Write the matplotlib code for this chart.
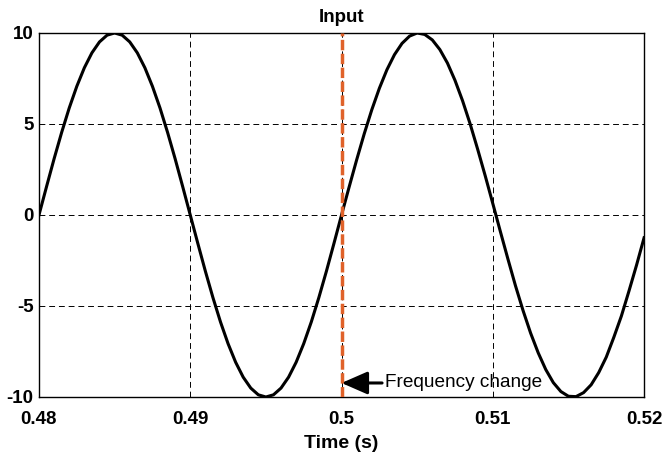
import numpy as np
import matplotlib
matplotlib.use('Agg')
import matplotlib.pyplot as plt

# time axis, 0.5 ms steps
time_s = np.arange(81) * 0.0005 + 0.48

# signal: 50 Hz before 0.5 s, slightly slower after
input_before = [0, 1.56, 3.09, 4.54, 5.88, 7.07, 8.09, 8.91, 9.51, 9.88,
                10, 9.88, 9.51, 8.91, 8.09, 7.07, 5.88, 4.54, 3.09, 1.56,
                0, -1.56, -3.09, -4.54, -5.88, -7.07, -8.09, -8.91, -9.51, -9.88,
                -10, -9.88, -9.51, -8.91, -8.09, -7.07, -5.88, -4.54, -3.09, -1.56,
                0]
input_after = [1.53, 3.03, 4.46, 5.78, 6.96, 7.98, 8.81, 9.43, 9.83, 10.0,
               9.92, 9.62, 9.09, 8.35, 7.40, 6.28, 5.01, 3.61, 2.15, 0.63,
               -0.91, -2.42, -3.89, -5.25, -6.49, -7.57, -8.49, -9.21, -9.70, -9.96,
               -9.98, -9.76, -9.33, -8.66, -7.81, -6.72, -5.55, -4.18, -2.76, -1.25]
input_signal = input_before + input_after

change_time = 0.5
x_ticks = [0.48, 0.49, 0.5, 0.51, 0.52]
x_tick_labels = ['0.48', '0.49', '0.5', '0.51', '0.52']
y_ticks = [-10, -5, 0, 5, 10]

plt.rcParams['font.family'] = ['Liberation Sans', 'DejaVu Sans']
plt.rcParams['axes.unicode_minus'] = False

fig = plt.figure(figsize=(6.64, 4.57), dpi=100)
ax = fig.add_axes([0.0587, 0.1313, 0.9113, 0.7965])

ax.plot(time_s, input_signal, color='black', linewidth=2.2, zorder=3)
ax.axvline(change_time, color='#E0622A', linestyle=(0, (3, 1)), linewidth=2.5, zorder=4)

# arrow pointing at the frequency change
ax.annotate('', xy=(change_time, -9.23), xytext=(0.50268, -9.23),
            arrowprops=dict(arrowstyle='-|>,head_length=1.6,head_width=0.7',
                            color='black', linewidth=2.2, shrinkA=0, shrinkB=0,
                            mutation_scale=10),
            zorder=5)
ax.text(0.50288, -9.23, 'Frequency change', fontsize=13.7, va='center', ha='left', zorder=5)

ax.set_xlim(0.48, 0.52)
ax.set_ylim(-10, 10)
ax.set_xticks(x_ticks)
ax.set_xticklabels(x_tick_labels)
ax.set_yticks(y_ticks)
ax.tick_params(axis='x', length=0, labelsize=13.5, pad=10)
ax.tick_params(axis='y', length=0, labelsize=13.5, pad=4)
for lbl in ax.get_xticklabels() + ax.get_yticklabels():
    lbl.set_fontweight('bold')

ax.grid(True, color='black', linestyle=(0, (6, 4)), linewidth=0.7)
ax.set_axisbelow(True)
for spine in ax.spines.values():
    spine.set_linewidth(1.0)

ax.set_title('Input', fontsize=13.5, fontweight='bold', pad=8)
ax.set_xlabel('Time (s)', fontsize=14, fontweight='bold', labelpad=5)

plt.savefig('out.png', dpi=100)
